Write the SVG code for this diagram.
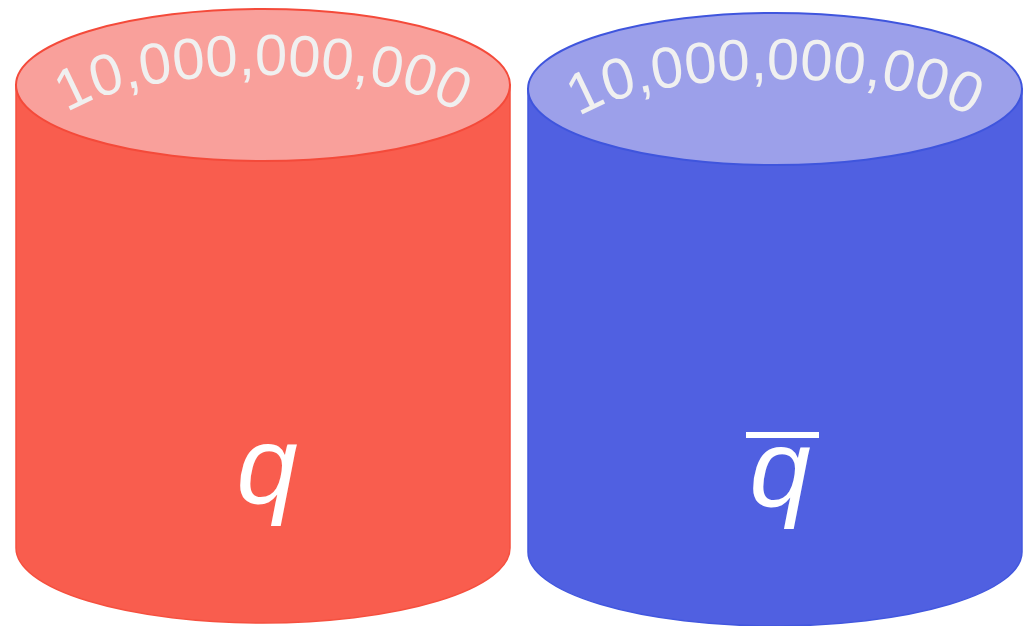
<svg xmlns="http://www.w3.org/2000/svg" width="1032" height="626" viewBox="0 0 1032 626">
<style>
.num{font-family:"Liberation Sans",Arial,sans-serif;font-size:58px;fill:#F0F0F0}
.lbl{font-family:"Liberation Sans",Arial,sans-serif;font-size:110px;font-style:italic;fill:#FFFFFF}
.rbody{fill:#F95D4E;stroke:#F5503F;stroke-width:1.5}
.rtop{fill:#F9A09B;stroke:#F44A3A;stroke-width:2}
.bbody{fill:#5060E1;stroke:#4257DE;stroke-width:1.5}
.btop{fill:#9CA0EA;stroke:#3F55DD;stroke-width:2}
</style>
<defs>
<path id="arcR" d="M48,140 A215,65 0 0 1 478,140"/>
<path id="arcB" d="M560,144 A215,65 0 0 1 990,144"/>
</defs>
<g id="quark">
<path class="rbody" d="M16,85 L16,548 A247,75 0 0 0 510,548 L510,85 Z"/>
<ellipse class="rtop" cx="263" cy="85" rx="247" ry="76"/>
<text class="num"><textPath href="#arcR" startOffset="50%" text-anchor="middle">10,000,000,000</textPath></text>
<text class="lbl" x="267" y="503" text-anchor="middle">q</text>
</g>
<g id="antiquark">
<path class="bbody" d="M528,89 L528,552 A247,74 0 0 0 1022,552 L1022,89 Z"/>
<ellipse class="btop" cx="775" cy="89" rx="247" ry="76"/>
<text class="num"><textPath href="#arcB" startOffset="50%" text-anchor="middle">10,000,000,000</textPath></text>
<text class="lbl" x="780" y="506" text-anchor="middle">q</text>
<rect x="746" y="432" width="73" height="6" fill="#FFFFFF"/>
</g>
</svg>
